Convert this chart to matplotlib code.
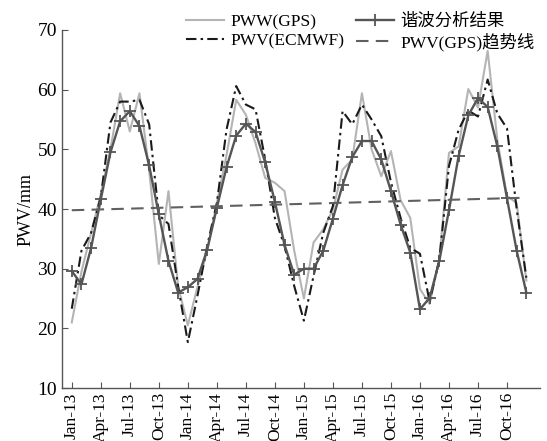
import numpy as np
import matplotlib.pyplot as plt

plt.rcParams['font.family'] = ['Liberation Serif', 'Noto Sans CJK SC']

# monthly values, Jan-13 .. Dec-16
months = np.arange(48)
tick_labels = ['Jan-13', 'Apr-13', 'Jul-13', 'Oct-13', 'Jan-14', 'Apr-14', 'Jul-14', 'Oct-14',
               'Jan-15', 'Apr-15', 'Jul-15', 'Oct-15', 'Jan-16', 'Apr-16', 'Jul-16', 'Oct-16']

pwv_gps = [21.0, 29.5, 36.0, 42.5, 50.0, 59.4, 53.0, 59.4, 46.5, 30.8, 43.0, 27.0,
           20.5, 27.0, 33.0, 41.0, 49.0, 58.3, 55.8, 51.0, 45.2, 44.4, 43.0, 33.0,
           25.0, 34.4, 36.6, 39.9, 46.6, 48.3, 59.4, 50.0, 45.5, 49.7, 41.5, 38.5,
           26.6, 24.1, 31.6, 49.4, 50.5, 60.1, 57.0, 66.5, 51.6, 42.2, 41.0, 28.0]

pwv_ecmwf = [23.3, 33.0, 36.0, 42.0, 54.5, 58.0, 58.0, 58.3, 54.2, 39.0, 37.5, 27.0,
             17.7, 25.5, 33.8, 41.0, 53.3, 60.6, 57.5, 56.7, 48.3, 38.5, 33.8, 27.1,
             21.3, 28.8, 36.0, 40.5, 56.4, 54.2, 57.5, 55.0, 52.2, 44.5, 38.5, 33.5,
             32.5, 24.5, 31.5, 47.2, 53.3, 56.5, 55.5, 61.7, 56.0, 53.5, 40.0, 28.5]

harmonic = [29.6, 27.4, 33.5, 41.6, 49.5, 54.7, 56.4, 53.9, 47.3, 39.1, 31.3, 26.0,
            26.9, 28.3, 33.2, 40.2, 47.0, 52.3, 54.3, 52.9, 47.8, 41.2, 34.0, 29.0,
            30.0, 30.0, 33.0, 38.4, 44.0, 48.7, 51.4, 51.4, 48.3, 43.0, 37.4, 32.7,
            23.2, 25.1, 31.3, 39.8, 48.9, 55.7, 58.6, 57.1, 50.5, 41.8, 33.0, 26.0]

# trend line end values
trend_ends = [39.8, 41.9]

fig = plt.figure(figsize=(5.47, 4.41), dpi=100)
ax = fig.add_axes([0.113, 0.12, 0.874, 0.812])

l_gps, = ax.plot(months, pwv_gps, color='#b4b4b4', lw=1.5, label='PWW(GPS)')
l_ec, = ax.plot(months, pwv_ecmwf, color='#1a1a1a', lw=1.5, ls=(0, (5, 2, 1.2, 2)),
                label='PWV(ECMWF)')
l_har, = ax.plot(months, harmonic, color='#555555', lw=1.7, marker='+', ms=8, mew=1.3,
                 label='谐波分析结果')
l_tr, = ax.plot([months[0], months[-1]], trend_ends, color='#606060', lw=1.5,
                ls=(0, (6, 3.5)), label='PWV(GPS)趋势线')

ax.set_xlim(-1.03, 48.4)
ax.set_ylim(10, 70)
ax.set_xticks(months[::3])
ax.set_xticklabels(tick_labels, rotation=90, fontsize=12.5)
ax.set_yticks(np.arange(10, 71, 10))
ax.tick_params(axis='y', labelsize=14, direction='in', length=4, color='#555555')
ax.tick_params(axis='x', direction='in', length=4, color='#555555', pad=3)
ax.set_ylabel('PWV/mm', fontsize=13, labelpad=2)

for s in ['top', 'right']:
    ax.spines[s].set_visible(False)
for s in ['left', 'bottom']:
    ax.spines[s].set_color('#555555')
    ax.spines[s].set_linewidth(1.0)

fig.legend(handles=[l_gps, l_ec, l_har, l_tr], ncol=2, loc='upper right',
           bbox_to_anchor=(0.995, 0.99), frameon=False, fontsize=12.5,
           handlelength=2.2, columnspacing=0.7, labelspacing=0.15,
           handletextpad=0.35, borderpad=0.05)

fig.savefig('out.png', dpi=100)
